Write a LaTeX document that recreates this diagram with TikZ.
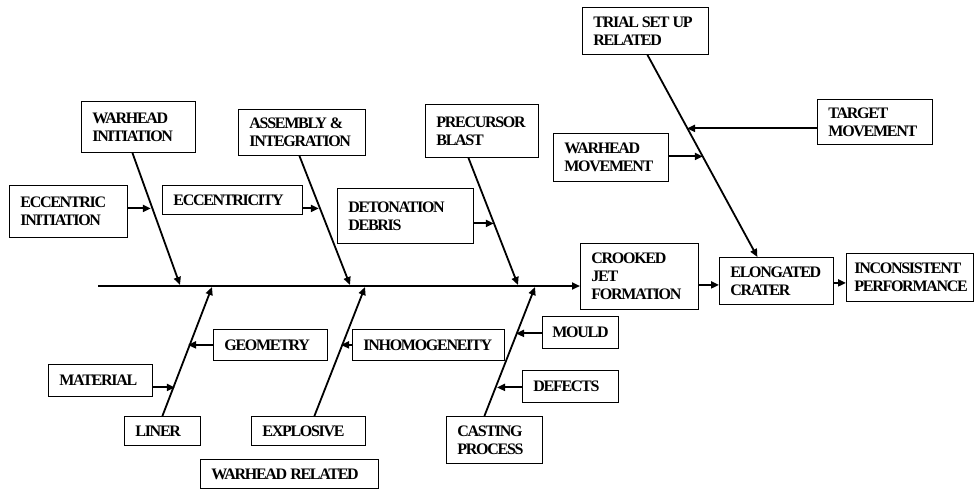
\documentclass[tikz,border=0pt]{standalone}
\usepackage{fontspec}
\setmainfont{Liberation Serif}[LetterSpace=-8]
\usepackage{tikz}
\usetikzlibrary{arrows.meta, positioning, calc}
\newcommand{\gap}{\hspace{3pt}}
\tikzset{
    box/.style={draw, line width=0.8pt, fill=white, anchor=north west, align=left, inner xsep=11pt, inner ysep=0pt, font=\bfseries\fontsize{16}{18}\selectfont},
    arr/.style={-{Triangle[length=8pt, width=7pt]}, line width=2pt},
    bone/.style={arr, line width=1.8pt},
    spine/.style={arr, line width=2pt}
}

\begin{document}
\begin{tikzpicture}[x=1pt, y=-1pt]
    \useasboundingbox (0,0) rectangle (974,490);

    % Upper causes
    \node[box, text width=92pt, minimum height=51pt] (whinit) at (81,101) {WARHEAD\\INITIATION};
    \node[box, text width=96pt, minimum height=52pt] (eccinit) at (9,185) {ECCENTRIC\\INITIATION};
    \node[box, text width=118pt, minimum height=29pt] (eccentricity) at (162,185) {ECCENTRICITY};
    \node[box, text width=105pt, minimum height=46pt] (assembly) at (238,109) {ASSEMBLY\gap\&\\INTEGRATION};
    \node[box, text width=114pt, minimum height=55pt] (debris) at (337,188) {DETONATION\\DEBRIS};
    \node[box, text width=91pt, minimum height=53pt] (precursor) at (425,104) {PRECURSOR\\BLAST};
    \node[box, text width=104pt, minimum height=47pt] (trial) at (582,7) {TRIAL\gap SET\gap UP\\RELATED};
    \node[box, text width=93pt, minimum height=45pt] (target) at (817,99) {TARGET\\MOVEMENT};
    \node[box, text width=93pt, minimum height=48pt] (whmove) at (553,133) {WARHEAD\\MOVEMENT};

    % Effect chain
    \node[box, text width=96pt, minimum height=66pt] (crooked) at (580,243) {CROOKED\\JET\\FORMATION};
    \node[box, text width=92pt, minimum height=47pt] (elongated) at (719,257) {ELONGATED\\CRATER};
    \node[box, text width=111pt, inner xsep=8pt, minimum height=48pt] (inconsistent) at (846,253) {INCONSISTENT\\PERFORMANCE};

    % Lower causes
    \node[box, text width=92pt, minimum height=31pt] (geometry) at (213,329) {GEOMETRY};
    \node[box, text width=82pt, minimum height=32pt] (material) at (48,364) {MATERIAL};
    \node[box, text width=54pt, minimum height=29pt] (liner) at (124,416) {LINER};
    \node[box, text width=130pt, minimum height=31pt] (inhomog) at (352,329) {INHOMOGENEITY};
    \node[box, text width=92pt, minimum height=29pt] (explosive) at (251,416) {EXPLOSIVE};
    \node[box, text width=156pt, minimum height=29pt] (whrelated) at (200,459) {WARHEAD\gap RELATED};
    \node[box, text width=56pt, inner xsep=10pt, minimum height=32pt] (mould) at (542,316) {MOULD};
    \node[box, text width=74pt, minimum height=32pt] (defects) at (522,370) {DEFECTS};
    \node[box, text width=74pt, minimum height=47pt] (casting) at (446,416) {CASTING\\PROCESS};

    % Spine
    \coordinate (tail) at (98,286);
    \draw[spine] (tail) -- (tail -| crooked.west);
    \draw[arr] ([yshift=-4pt]elongated.west -| crooked.east) -- ([yshift=-4pt]elongated.west);
    \draw[arr] ([yshift=-2pt]elongated.east) -- ([yshift=-2pt]elongated.east -| inconsistent.west);

    % Bones
    \coordinate (jA) at (180,285);
    \coordinate (jB) at (350,285);
    \coordinate (jC) at (518,285);
    \coordinate (jE) at (212,287);
    \coordinate (jF) at (365,287);
    \coordinate (jG) at (535,287);
    \draw[bone] ([xshift=-6pt]whinit.south) -- (jA);
    \draw[bone] ([xshift=-2.5pt]assembly.south) -- (jB);
    \draw[bone] ([xshift=-13.5pt]precursor.south) -- (jC);
    \draw[bone] ([xshift=2pt]trial.south) -- ([xshift=-19pt]elongated.north);
    \draw[bone] (liner.north) -- (jE);
    \draw[bone] ([xshift=6pt]explosive.north) -- (jF);
    \draw[bone] ([xshift=-10pt]casting.north) -- (jG);

    % Sub-causes
    \draw[arr] ([yshift=3pt]eccinit.east) -- ++(23,0);
    \draw[arr] ([yshift=-8.5pt]eccentricity.east) -- ++(16,0);
    \draw[arr] ([yshift=-7.5pt]debris.east) -- ++(20,0);
    \draw[arr] ([yshift=-6.5pt]target.west) -- ++(-130,0);
    \draw[arr] ([yshift=1pt]whmove.east) -- ++(34,0);
    \draw[arr] (geometry.west) -- ++(-25,0);
    \draw[arr] ([yshift=-7pt]material.east) -- ++(22,0);
    \draw[arr] (inhomog.west) -- ++(-11,0);
    \draw[arr] ([yshift=-1pt]mould.west) -- ++(-26,0);
    \draw[arr] ([yshift=-1pt]defects.west) -- ++(-25,0);
\end{tikzpicture}
\end{document}
